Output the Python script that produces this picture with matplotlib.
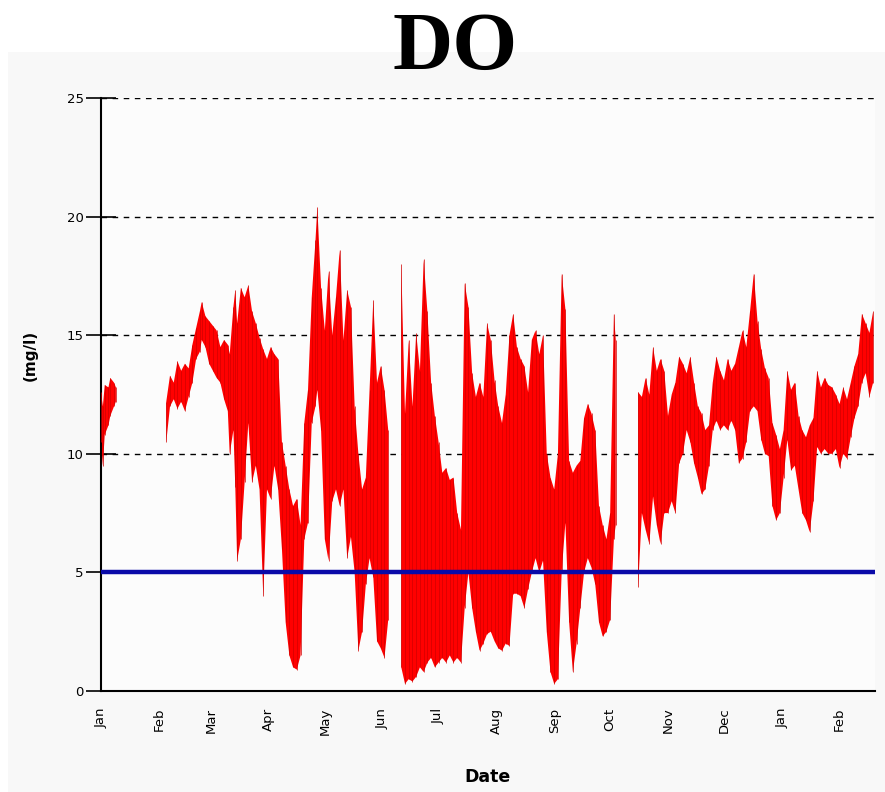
import numpy as np
import matplotlib
matplotlib.use('Agg')
from matplotlib import pyplot as plt
import matplotlib.dates as mdates
from matplotlib.patches import Rectangle

# DO readings: day offset from Jan 1, daily low / high (mg/l)
start = np.datetime64('2009-01-01')
day = [0, 1, 2, 4, 5, 7, 8, 20,
       35, 37, 39, 41, 43, 45, 47, 49, 51, 53, 54, 56, 58, 60, 62, 64, 66, 68, 69,
       71, 72, 73, 75, 77, 79, 81, 83, 85, 87, 89, 91, 93, 95, 97, 99, 101, 103,
       105, 107, 109, 111, 113, 115, 116, 118, 120, 122, 124, 126, 128, 130, 132,
       134, 136, 138, 140, 142, 144, 146, 148, 150, 152, 154, 157,
       161, 163, 165, 167, 169, 171, 173, 175, 177, 179, 181, 183, 185, 187, 189,
       191, 193, 195, 197, 199, 201, 203, 205, 207, 209, 211, 213, 215, 217, 219,
       221, 223, 225, 227, 229, 231, 233, 235, 237, 239, 241, 243, 245, 247, 249,
       251, 253, 255, 257, 259, 261, 263, 265, 267, 269, 271, 273, 275, 276, 282,
       288, 290, 292, 294, 296, 298, 300, 302, 304, 306, 308, 310, 312, 314, 316,
       318, 320, 322, 324, 326, 328, 330, 332, 334, 336, 338, 340, 342, 344, 346,
       348, 350, 352, 354, 356, 358, 360, 362, 364, 366, 368, 370, 372, 374, 376,
       378, 380, 382, 384, 386, 388, 390, 392, 394, 396, 398, 400, 402, 404, 406,
       408, 410, 412, 414]
lo = [10.5, 9.5, 10.8, 11.2, 11.6, 12.0, 12.2, np.nan,
      10.5, 12.0, 12.3, 11.9, 12.2, 11.8, 12.4, 13.0, 14.0, 14.3, 14.8, 14.5, 13.8,
      13.5, 13.2, 13.0, 12.3, 11.8, 10.0,
      11.0, 8.6, 5.5, 6.4, 8.8, 11.3, 8.8, 9.5, 8.5, 4.0, 8.5, 8.1, 9.5, 8.5, 6.0,
      2.9, 1.5, 1.0,
      0.9, 1.5, 6.4, 7.1, 11.3, 12.0, 12.7, 11.0, 6.4, 5.5, 8.0, 8.5, 7.8, 8.5, 5.6,
      6.5, 5.0, 1.7, 2.5, 4.5, 5.6, 4.8, 2.1, 1.8, 1.4, 3.0, np.nan,
      1.0, 0.3, 0.5, 0.4, 0.6, 1.0, 0.8, 1.2, 1.4, 1.0, 1.2, 1.4, 1.2, 1.5, 1.2,
      1.4, 1.2, 3.5, 5.0, 3.5, 2.5, 1.7, 2.0, 2.4, 2.5, 2.1, 1.8, 1.7, 2.0, 1.9,
      4.1, 4.1, 4.0, 3.5, 4.3, 5.0, 5.6, 5.0, 5.5, 2.5, 0.8, 0.3, 0.5, 5.0, 7.1,
      2.9, 0.8, 2.0, 3.5, 5.0, 5.6, 5.2, 4.5, 2.9, 2.3, 2.5, 3.0, 6.4, 7.0, np.nan,
      4.4, 7.5, 6.8, 6.2, 8.2, 7.0, 6.2, 7.5, 7.5, 8.0, 7.5, 9.6, 10.0, 11.0, 10.5,
      9.6, 9.0, 8.3, 8.5, 9.5, 11.0, 11.4, 11.0, 11.2, 11.0, 11.4, 11.0, 9.6, 9.8, 10.5,
      11.8, 12.0, 11.8, 10.6, 10.0, 9.9, 7.8, 7.2, 7.5, 9.0, 10.6, 9.3, 9.5, 8.5, 7.5,
      7.2, 6.7, 8.0, 10.3, 10.0, 10.2, 10.0, 10.0, 10.2, 9.4, 10.0, 9.8, 10.7, 11.5, 12.0,
      13.0, 13.4, 12.4, 13.0]
hi = [12.6, 12.0, 12.9, 12.8, 13.2, 13.0, 12.8, np.nan,
      12.2, 13.3, 13.0, 13.9, 13.5, 13.8, 13.6, 14.6, 15.3, 16.0, 16.4, 15.8, 15.6,
      15.4, 15.2, 14.5, 14.8, 14.6, 14.2,
      16.2, 16.9, 15.5, 17.0, 16.6, 17.1, 16.0, 15.5, 14.9, 14.4, 14.0, 14.5, 14.2, 14.0,
      10.5, 9.5, 8.5, 7.8,
      8.1, 7.0, 11.3, 12.7, 16.6, 19.0, 20.4, 17.0, 15.2, 17.7, 15.0, 16.6, 18.6, 14.8,
      16.9, 16.2, 12.0, 10.0, 8.5, 9.0, 12.7, 16.5, 13.0, 13.7, 12.7, 11.0, np.nan,
      18.0, 11.7, 14.8, 12.0, 15.1, 13.5, 18.2, 16.0, 13.0, 11.6, 10.5, 9.2, 9.4, 8.9,
      9.0, 7.5, 6.8, 17.2, 16.2, 13.4, 12.4, 13.0, 12.4, 15.5, 14.8, 13.1, 12.0, 11.3,
      12.5, 15.0, 15.9, 14.5, 14.0, 13.7, 12.6, 14.8, 15.2, 14.2, 15.0, 10.0, 9.0, 8.5,
      10.0, 17.6, 16.1, 9.7, 9.2, 9.5, 9.7, 11.5, 12.1, 11.7, 11.0, 7.8, 7.0, 6.4, 7.5,
      15.9, 14.8, np.nan,
      12.6, 12.4, 13.2, 12.5, 14.5, 13.5, 14.0, 13.5, 11.6, 12.5, 13.0, 14.1, 13.8, 13.4,
      14.1, 13.0, 12.0, 11.7, 11.0, 11.2, 13.0, 14.1, 13.5, 13.1, 14.0, 13.5, 13.8, 14.5,
      15.2, 14.5, 16.0, 17.6, 15.6, 14.4, 13.6, 13.2, 11.3, 10.8, 10.2, 11.0, 13.5, 12.7,
      13.0, 11.6, 11.0, 10.7, 11.2, 11.5, 13.5, 12.8, 13.2, 12.9, 12.8, 12.5, 12.1, 12.8,
      12.3, 13.0, 13.7, 14.2, 15.9, 15.5, 15.1, 16.0]
standard = 5.0
y_ticks = [0, 5, 10, 15, 20, 25]

dates = start + np.array(day).astype('timedelta64[D]')
lo = np.array(lo)
hi = np.array(hi)

fig = plt.figure(figsize=(8.85, 7.92), dpi=100)
fig.patch.set_facecolor('white')
# light grey chart panel below the title
panel = Rectangle((8 / 885, 0), 1, 1 - 52 / 792, transform=fig.transFigure,
                  facecolor='#f8f8f8', edgecolor='none', zorder=-10)
fig.add_artist(panel)

ax = fig.add_axes([101 / 885, 1 - 691 / 792, 774 / 885, 593 / 792])
ax.set_facecolor('#fcfcfc')

ax.fill_between(dates, lo, hi, color='#ff0000', lw=0, zorder=2)
ax.vlines(dates, lo, hi, color='#d00000', lw=0.5, zorder=3)
ax.axhline(standard, color='#0a0aa8', lw=3.2, zorder=4)

for v in y_ticks[1:]:
    ax.axhline(v, color='black', lw=1, ls=(0, (4, 4)), zorder=1)

ax.set_ylim(0, 25)
ax.set_xlim(start, start + np.timedelta64(415, 'D'))
ax.set_yticks(y_ticks)
ax.xaxis.set_major_locator(mdates.MonthLocator())
ax.xaxis.set_major_formatter(mdates.DateFormatter('%b'))
ax.tick_params(axis='x', length=0, labelrotation=90, labelsize=9.5, pad=12)
ax.tick_params(axis='y', direction='inout', length=21, width=1.2, labelsize=9.5, pad=2)

for s in ['top', 'right']:
    ax.spines[s].set_visible(False)
ax.spines['left'].set_linewidth(1.5)
ax.spines['bottom'].set_linewidth(1.5)

ax.set_xlabel('Date', fontsize=12.5, fontweight='bold', labelpad=24)
fig.text(30 / 885, 1 - 355 / 792, '(mg/l)', rotation=90, fontsize=11, fontweight='bold',
         ha='center', va='center')
fig.text(455 / 885, 1 - 49 / 792, 'DO', fontsize=60, fontweight='bold',
         family='Liberation Serif', ha='center', va='center')

fig.savefig('out.png', dpi=100)
